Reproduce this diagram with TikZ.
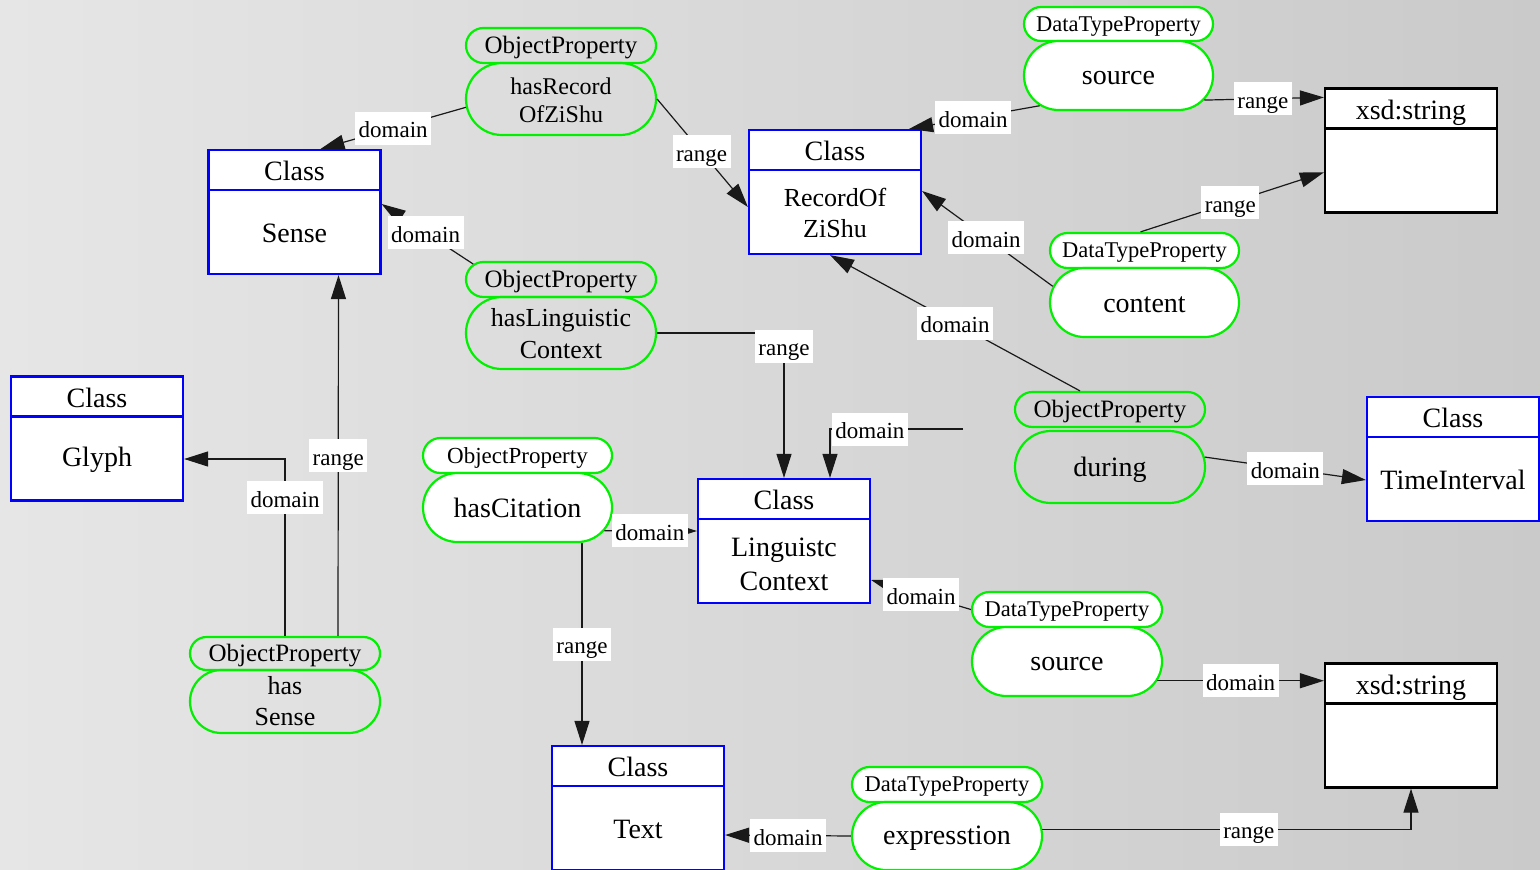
\documentclass[tikz,border=0pt]{standalone}
\usepackage{fontspec}
\setmainfont{Liberation Serif}
\usetikzlibrary{shapes.misc,arrows.meta,calc}
\definecolor{pgreen}{RGB}{0,240,0}
\definecolor{cblue}{RGB}{0,0,255}
\definecolor{bgL}{RGB}{230,230,230}
\definecolor{bgR}{RGB}{202,202,202}
\definecolor{edgec}{RGB}{25,25,25}
\tikzset{
  classbox/.style={draw=cblue, line width=2.2pt, fill=white, minimum width=172pt, minimum height=124pt, inner sep=0pt},
  hdr/.style={font=\fontsize{28}{30}\selectfont, inner sep=0pt, text height=23pt, text depth=0pt},
  nm/.style={font=\fontsize{28}{34}\selectfont, align=center, inner sep=0pt, yshift=-2pt},
  pill/.style={rounded rectangle, draw=pgreen, line width=2.2pt, inner sep=0pt, minimum width=190pt},
  ptext/.style={inner sep=0pt, align=center},
  lbl/.style={fill=white, inner xsep=3.5pt, inner ysep=0pt, minimum height=33pt, font=\fontsize{23}{23}\selectfont, text height=19pt, text depth=0pt},
  arr/.style={draw=edgec, line width=1.2pt, -{Triangle[length=24pt,width=15pt]}},
}
\newcommand\mkclass[6]{%
  \node[classbox,draw=#5] (#1) at (#2) {};
  \draw[#5,line width=2.2pt] ([yshift=-41]#1.north west) -- ([yshift=-41]#1.north east);
  \node[hdr] (#1-h) at ([yshift=-20.5]#1.north) {#3};
  \node[nm,#6] (#1-b) at ([yshift=-82.5]#1.north) {#4};
}
% name, position, shape options, text options, text
\newcommand\mkpill[5]{%
  \node[pill,#3] (#1) at (#2) {};
  \node[ptext,#4] (#1-t) at ([yshift=-2.5]#1.center) {#5};
}
\begin{document}
\begin{tikzpicture}[x=1pt,y=-1pt]
\useasboundingbox (0,0) rectangle (1540,870);
\shade[left color=bgL, right color=bgR] (0,0) rectangle (1540,870);

% classes
\mkclass{sense}{294.5,212}{Class}{Sense}{cblue}{}
\mkclass{glyph}{97,438.5}{Class}{Glyph}{cblue}{}
\mkclass{rec}{835,192}{Class}{RecordOf\\ZiShu}{cblue}{font=\fontsize{26}{31}\selectfont}
\mkclass{ti}{1453,459}{Class}{TimeInterval}{cblue}{}
\mkclass{lc}{784,541}{Class}{Linguistc\\Context}{cblue}{yshift=-2}
\mkclass{txt}{638,808}{Class}{Text}{cblue}{}
\mkclass{xsdT}{1411,150.5}{xsd:string}{}{black}{}
\mkclass{xsdB}{1411,725.5}{xsd:string}{}{black}{}

% object properties
\mkpill{hrzL}{561,45.5}{minimum height=35pt}{font=\fontsize{25}{25}\selectfont}{ObjectProperty}
\mkpill{hrzM}{561,99}{minimum height=72pt}{font=\fontsize{24}{28}\selectfont, yshift=1.5}{hasRecord\\OfZiShu}

\mkpill{hlcL}{561,279.5}{minimum height=35pt}{font=\fontsize{25}{25}\selectfont}{ObjectProperty}
\mkpill{hlcM}{561,333}{minimum height=72pt}{font=\fontsize{26}{32}\selectfont, yshift=1.5}{hasLinguistic\\Context}

\mkpill{hcL}{517.5,455.5}{fill=white, minimum width=189pt, minimum height=35pt}{font=\fontsize{23}{23}\selectfont}{ObjectProperty}
\mkpill{hcM}{517.5,507.5}{fill=white, minimum width=189pt, minimum height=69pt}{font=\fontsize{28}{28}\selectfont, yshift=2}{hasCitation}

\mkpill{hsL}{285,653.5}{minimum height=33pt}{font=\fontsize{25}{25}\selectfont}{ObjectProperty}
\mkpill{hsM}{285,701.5}{minimum height=63pt}{font=\fontsize{26}{31}\selectfont, yshift=2.5}{has\\Sense}

\mkpill{duL}{1110,409.5}{minimum height=35pt}{font=\fontsize{25}{25}\selectfont}{ObjectProperty}
\mkpill{duM}{1110,467}{minimum height=72pt}{font=\fontsize{28}{28}\selectfont}{during}

% datatype properties
\mkpill{stL}{1118.5,24}{fill=white, minimum width=189pt, minimum height=34pt}{font=\fontsize{22.5}{22.5}\selectfont}{DataTypeProperty}
\mkpill{stM}{1118.5,75.5}{fill=white, minimum width=189pt, minimum height=69pt}{font=\fontsize{28}{28}\selectfont}{source}

\mkpill{ctL}{1144.5,250.5}{fill=white, minimum width=189pt, minimum height=35pt}{font=\fontsize{22.5}{22.5}\selectfont}{DataTypeProperty}
\mkpill{ctM}{1144.5,302.5}{fill=white, minimum width=189pt, minimum height=69pt}{font=\fontsize{28}{28}\selectfont}{content}

\mkpill{sbL}{1067,609.5}{fill=white, minimum height=35pt}{font=\fontsize{22.5}{22.5}\selectfont}{DataTypeProperty}
\mkpill{sbM}{1067,661.5}{fill=white, minimum height=69pt}{font=\fontsize{28}{28}\selectfont}{source}

\mkpill{exL}{947,784.5}{fill=white, minimum height=35pt}{font=\fontsize{22.5}{22.5}\selectfont}{DataTypeProperty}
\mkpill{exM}{947,836}{fill=white, minimum height=68pt}{font=\fontsize{28}{28}\selectfont}{expresstion}

\coordinate (freeEnd) at (963,429);

% connectors
\draw[arr] (hrzM.185) -- ([xshift=26]sense.north) node[lbl,pos=0.5]{domain};
\draw[arr] (hrzM.east) -- ([yshift=-15]rec.west) node[lbl,pos=0.49]{range};
\draw[arr] (hlcL.170) -- ([yshift=8]sense.east) node[lbl,pos=0.52]{domain};
\draw[arr] (hlcM.east) -| (lc.north) node[lbl,pos=0.545]{range};
\draw[arr] (hsL.north) |- ([yshift=-20.5]glyph.east) node[lbl,pos=0.39]{domain};
\draw[arr] ([xshift=53]hsL.north) -- ([xshift=44]sense.south) node[lbl,pos=0.5]{range};
\draw[arr] (hcM.-15) -- ([yshift=10]lc.west) node[lbl,pos=0.49]{domain};
\draw[arr] ([xshift=64.5]hcM.south) -- ([xshift=-56]txt.north) node[lbl,pos=0.5]{range};
\draw[arr] (stM.201) -- ([xshift=-13]rec.north east) node[lbl,pos=0.51]{domain};
\draw[arr] (stM.-16) -- ([yshift=-10]xsdT.north west) node[lbl,pos=0.49]{range};
\draw[arr] ([xshift=-4]ctL.north) -- ([yshift=-85]xsdT.north west) node[lbl,pos=0.49]{range};
\draw[arr] (ctM.170) -- ([yshift=1]rec.east) node[lbl,pos=0.51]{domain};
\draw[arr] ([xshift=-30]duL.north) -- ([xshift=-5]rec.south) node[lbl,pos=0.5]{domain};
\draw[arr] (freeEnd) -| ([xshift=46]lc.north) node[lbl,pos=0.35]{domain};
\draw[arr] (duM.6) -- ([yshift=-21]ti.west) node[lbl,pos=0.5]{domain};
\draw[arr] (sbL.west) -- ([yshift=-39]lc.east) node[lbl,pos=0.5]{domain};
\draw[arr] (sbM.-12) -- (sbM.-12 -| xsdB.west) node[lbl,pos=0.5]{domain};
\draw[arr] (exM.4) -| (xsdB.south) node[lbl,pos=0.28]{range};
\draw[arr] (exM.west) -- ([yshift=-27]txt.east) node[lbl,pos=0.5]{domain};
\end{tikzpicture}
\end{document}
